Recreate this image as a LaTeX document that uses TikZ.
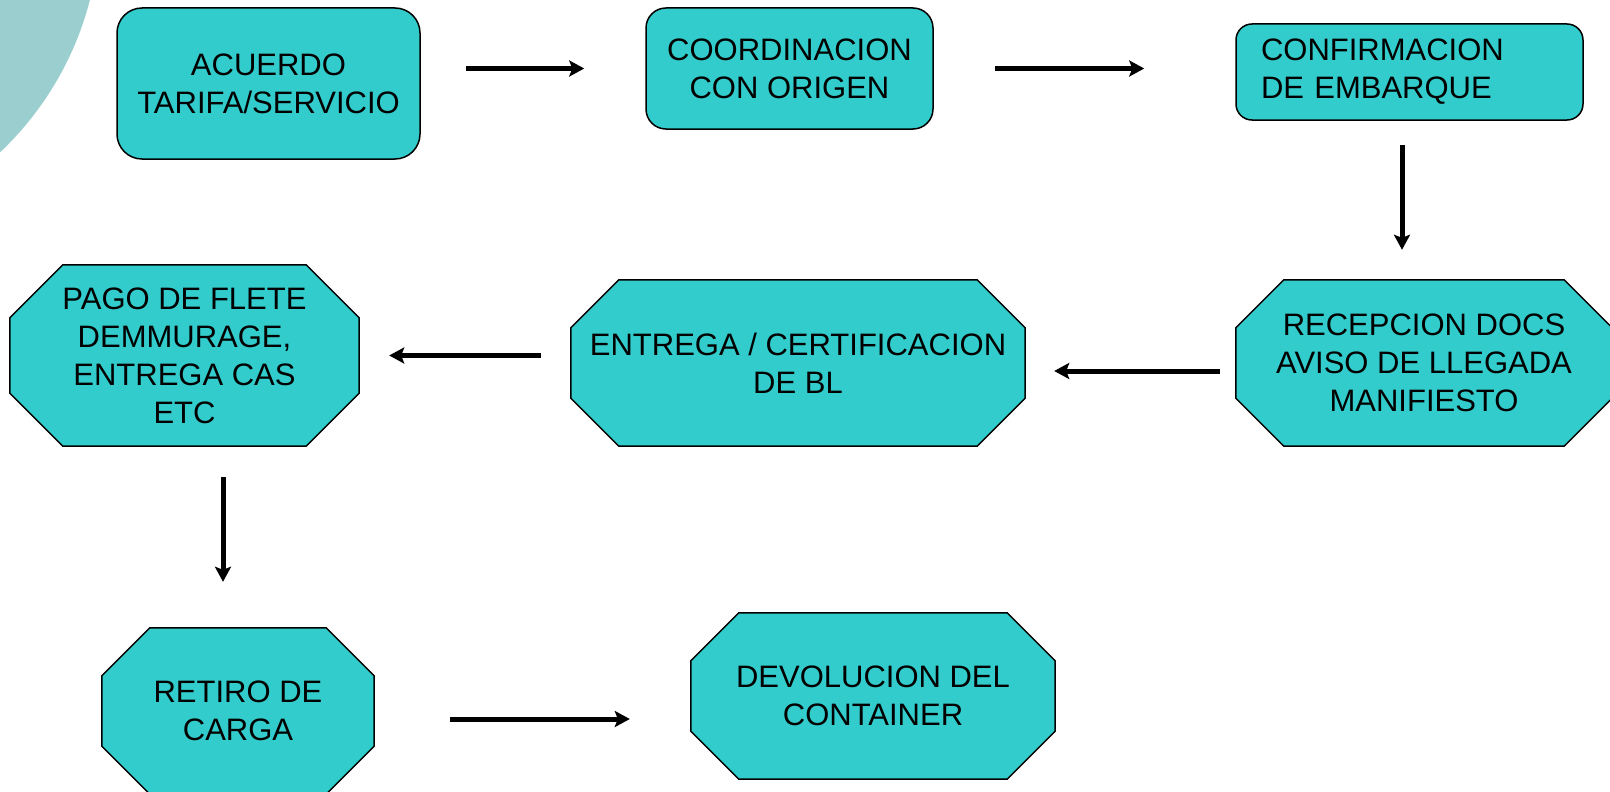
\documentclass[tikz,border=0pt]{standalone}
\usepackage{fontspec}
\setmainfont{Liberation Sans}
\usetikzlibrary{calc,arrows.meta,backgrounds}
\definecolor{boxfill}{HTML}{33CCCC}
\definecolor{circfill}{HTML}{9BCFCF}
\begin{document}
\begin{tikzpicture}[x=1pt,y=-1pt,
  txt/.style={font=\fontsize{31}{38}\selectfont, align=center, inner sep=0pt},
  rbox/.style={txt, draw=black, line width=1.5pt, fill=boxfill, rectangle},
  octbox/.style={txt, rectangle},
  octfill/.style={draw=black, line width=1.5pt, fill=boxfill, line join=miter},
  arr/.style={line width=5pt, -{Stealth[length=15pt,width=16pt,inset=3pt]}}]
\useasboundingbox (0,0) rectangle (1610,792);
\fill[circfill] (-220,-80) circle[radius=320];

% rounded boxes
\node[rbox, minimum width=303pt, minimum height=151pt, rounded corners=25pt] (acuerdo) at (268.5,83.5) {ACUERDO\\TARIFA/SERVICIO};
\node[rbox, minimum width=287pt, minimum height=121pt, rounded corners=20pt] (coord) at (789.5,68.5) {COORDINACION\\CON ORIGEN};
\node[rbox, minimum width=347pt, minimum height=96pt, rounded corners=16pt, text width=297pt, align=left] (confirm) at (1409.5,72) {CONFIRMACION\\DE EMBARQUE};

% octagon nodes
\node[octbox, minimum width=376pt, minimum height=166pt] (recepcion) at (1424,363) {RECEPCION DOCS\\AVISO DE LLEGADA\\MANIFIESTO};
\node[octbox, minimum width=454pt, minimum height=166pt] (entrega) at (798,363) {ENTREGA / CERTIFICACION\\DE BL};
\node[octbox, minimum width=349pt, minimum height=181pt] (pago) at (184.5,355.5) {PAGO DE FLETE\\DEMMURAGE,\\ENTREGA CAS\\ETC};
\node[octbox, minimum width=272pt, minimum height=166pt] (retiro) at (238,711) {RETIRO DE\\CARGA};
\node[octbox, minimum width=364pt, minimum height=166pt] (devolucion) at (873,696) {DEVOLUCION DEL\\CONTAINER};

\begin{scope}[on background layer]
\foreach \n/\c in {recepcion/48,entrega/48,pago/53,retiro/48,devolucion/48}{
  \filldraw[octfill] ([xshift=\c pt]\n.north west) -- ([xshift=-\c pt]\n.north east)
    -- ([yshift=-\c pt]\n.north east) -- ([yshift=\c pt]\n.south east)
    -- ([xshift=-\c pt]\n.south east) -- ([xshift=\c pt]\n.south west)
    -- ([yshift=\c pt]\n.south west) -- ([yshift=-\c pt]\n.north west) -- cycle;
}
\end{scope}

% connectors
\draw[arr, shorten <=45pt, shorten >=61pt] (acuerdo.east |- coord.west) -- (coord.west);
\draw[arr, shorten <=61pt, shorten >=91pt] (coord.east) -- (coord.east -| confirm.west);
\draw[arr, shorten <=24pt, shorten >=30pt] ([xshift=-7.5pt]confirm.south) -- ([xshift=-7.5pt]confirm.south |- recepcion.north);
\draw[arr, shorten <=16pt, shorten >=29pt] ([yshift=-8pt]recepcion.west) -- ([yshift=-8pt]entrega.east);
\draw[arr, shorten <=30pt, shorten >=30pt] (entrega.west |- pago.east) -- (pago.east);
\draw[arr, shorten <=31pt, shorten >=46pt] ([xshift=38.5pt]pago.south) -- ([xshift=38.5pt]pago.south |- retiro.north);
\draw[arr, shorten <=76pt, shorten >=61pt] ([yshift=-8pt]retiro.east) -- ([yshift=-8pt]retiro.east -| devolucion.west);
\end{tikzpicture}
\end{document}
